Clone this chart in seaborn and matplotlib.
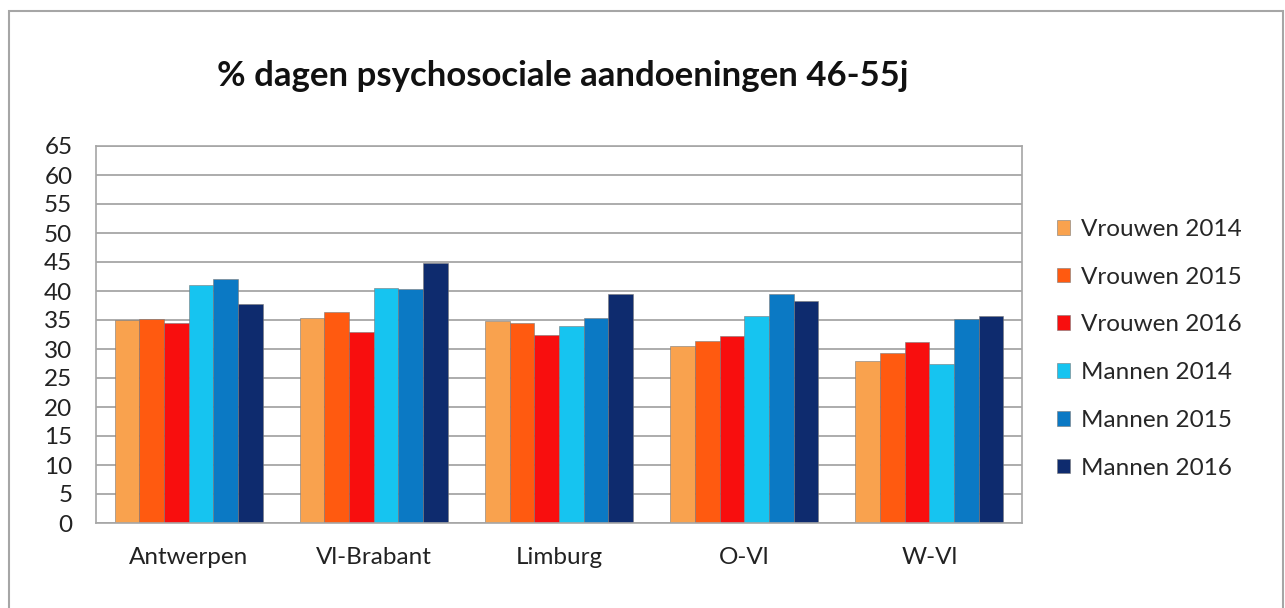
import matplotlib
matplotlib.use("Agg")
import matplotlib.pyplot as plt
from matplotlib.patches import Rectangle
import seaborn as sns
import pandas as pd

# data
regions = ["Antwerpen", "Vl-Brabant", "Limburg", "O-Vl", "W-Vl"]
series = ["Vrouwen 2014", "Vrouwen 2015", "Vrouwen 2016",
          "Mannen 2014", "Mannen 2015", "Mannen 2016"]
vrouwen_2014 = [35.0, 35.3, 34.9, 30.6, 28.0]
vrouwen_2015 = [35.1, 36.4, 34.4, 31.3, 29.3]
vrouwen_2016 = [34.4, 32.9, 32.4, 32.2, 31.2]
mannen_2014 = [41.0, 40.6, 34.0, 35.7, 27.5]
mannen_2015 = [42.0, 40.3, 35.3, 39.5, 35.2]
mannen_2016 = [37.8, 44.9, 39.5, 38.3, 35.7]

colors = ["#F9A24E", "#FF5A10", "#F80E0E", "#16C4F0", "#0B79C4", "#0E2B6E"]

rows = []
for name, vals in zip(series, [vrouwen_2014, vrouwen_2015, vrouwen_2016,
                               mannen_2014, mannen_2015, mannen_2016]):
    for reg, v in zip(regions, vals):
        rows.append({"region": reg, "serie": name, "value": v})
df = pd.DataFrame(rows)

sns.set_style("white")
plt.rcParams['font.family'] = ['Lato', 'DejaVu Sans']

fig = plt.figure(figsize=(12.85, 6.08), dpi=100)
ax = fig.add_axes([96 / 1285, 1 - 523 / 608, (1022 - 96) / 1285, (523 - 146) / 608])

sns.barplot(data=df, x="region", y="value", hue="serie", hue_order=series,
            order=regions, palette=colors, width=0.8, ax=ax,
            edgecolor="#7a7a7a", linewidth=0.4, saturation=1, errorbar=None)

ax.set_ylim(0, 65)
ax.set_yticks(range(0, 66, 5))
ax.set_xlim(-0.5, len(regions) - 0.5)
ax.yaxis.grid(True, color="#a6a6a6", linewidth=1.3)
ax.set_axisbelow(True)
for sp in ax.spines.values():
    sp.set_color("#a6a6a6")
    sp.set_linewidth(1.2)
ax.set_xlabel("")
ax.set_ylabel("")
ax.tick_params(axis="both", length=0, labelsize=17.5, colors="#222222")
ax.tick_params(axis="x", pad=17)
ax.tick_params(axis="y", pad=17)

ax.legend_.remove()
handles = [Rectangle((0, 0), 1, 1, facecolor=c, edgecolor="#7a7a7a", linewidth=0.4)
           for c in colors]
fig.legend(handles, series, loc="upper left", bbox_to_anchor=(1035 / 1285, 1 - 197 / 608),
           frameon=False, fontsize=17.5, handlelength=0.55, handleheight=0.55,
           handletextpad=0.45, labelspacing=1.1)

fig.text(563 / 1285, 1 - 76 / 608, "% dagen psychosociale aandoeningen 46-55j",
         ha="center", va="center", fontsize=25, fontweight="bold", color="#111111")

# outer chart border
fig.patches.append(Rectangle((9 / 1285, -0.05), (1283 - 9) / 1285, 1 - 11 / 608 + 0.05,
                             transform=fig.transFigure, fill=False,
                             edgecolor="#a6a6a6", linewidth=1.5))

plt.savefig("out.png", dpi=100)
